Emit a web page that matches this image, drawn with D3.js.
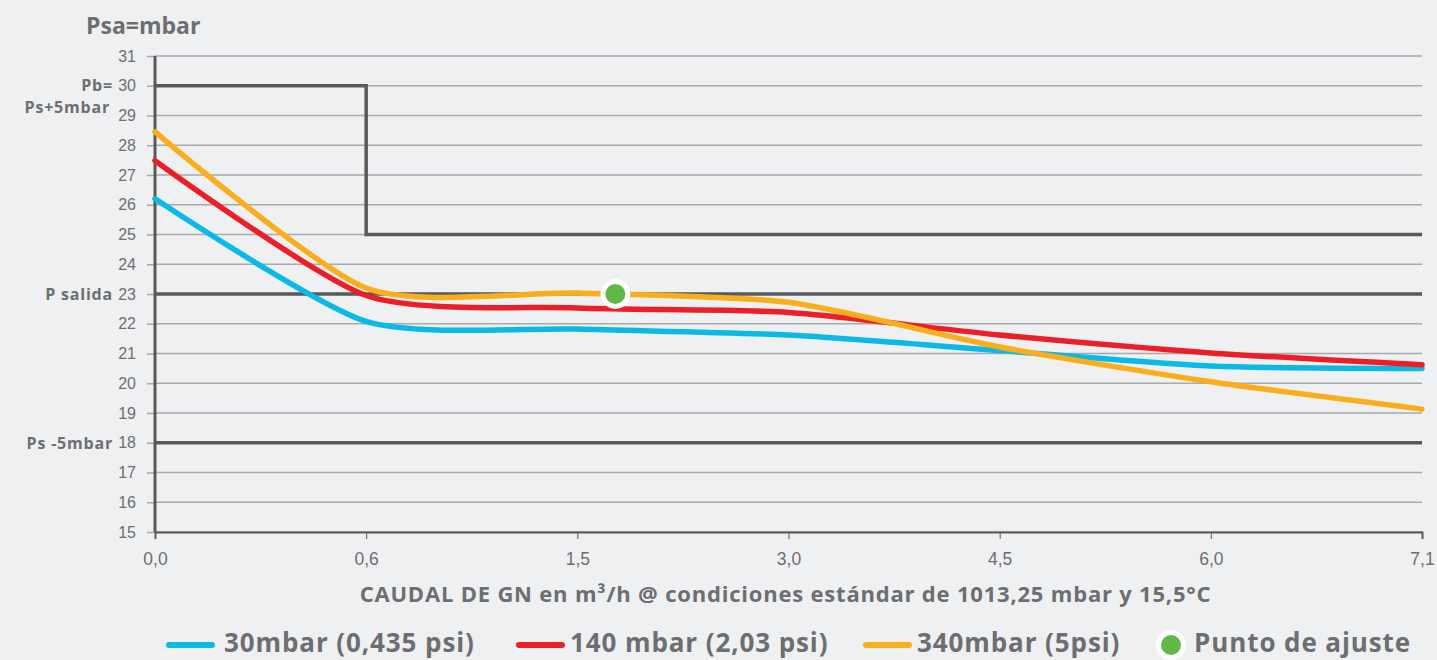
<!DOCTYPE html>
<html>
<head>
<meta charset="utf-8">
<script src="https://cdn.jsdelivr.net/npm/d3@7"></script>
<style>
  html, body { margin: 0; padding: 0; background: #eff0f2; }
  svg { display: block; font-family: Lato, "Noto Sans", sans-serif; }
  .bold { font-family: "Open Sans", Lato, sans-serif; font-weight: 700; }
</style>
</head>
<body>
<div id="graph"></div>
<script>
// flow categories on the x axis (equally spaced in the original)
const flowTicks = [0, 0.6, 1.5, 3.0, 4.5, 6.0, 7.1];
const flowLabels = ["0,0", "0,6", "1,5", "3,0", "4,5", "6,0", "7,1"];
const pressureTicks = [15, 16, 17, 18, 19, 20, 21, 22, 23, 24, 25, 26, 27, 28, 29, 30, 31];

// outlet pressure (mbar) for each inlet pressure
const series30 = [26.2, 22.08, 21.82, 21.62, 21.1, 20.58, 20.5];
const series140 = [27.48, 22.95, 22.53, 22.38, 21.62, 21.02, 20.62];
const series340 = [28.45, 23.2, 23.03, 22.72, 21.22, 20.05, 19.13];

const seriesNames = ["30mbar (0,435 psi)", "140 mbar (2,03 psi)", "340mbar (5psi)"];
const seriesColors = ["#0bb9e7", "#ec1f28", "#fbae1b"];

// limit lines
const pbStep = [[0, 30], [0.6, 25], [7.1, 25]];
const refLines = [23, 18];
const sideLabels = [
  {value: 30, text: "Pb=", dy: 5, right: -42},
  {value: 30, text: "Ps+5mbar", dy: 27, right: -45},
  {value: 23, text: "P salida", dy: 6, right: -42},
  {value: 18, text: "Ps -5mbar", dy: 6, right: -42}
];
const setPoint = {flow: 1.77, pressure: 23.0, name: "Punto de ajuste"};

const width = 1437;
const height = 660;
const margin = {top: 56, right: 15, bottom: 128, left: 155};
const w = width - margin.left - margin.right;
const h = height - margin.top - margin.bottom;

const textColor = "#6d6e71";
const darkLine = "#58595b";
const gridColor = "#a7a9ac";

const root = d3.select("#graph")
  .append("svg")
  .attr("width", width)
  .attr("height", height);

const svg = root.append("g")
  .attr("transform", `translate(${margin.left},${margin.top})`);

// piecewise scale: equal spacing between the labelled flows
const x = d3.scaleLinear()
  .domain(flowTicks)
  .range(flowTicks.map((d, i) => i * w / (flowTicks.length - 1)));

const y = d3.scaleLinear()
  .domain([15, 31])
  .range([h, 0]);

// grid
svg.append("g")
  .selectAll("line")
  .data(pressureTicks)
  .join("line")
  .attr("x1", 0)
  .attr("x2", w)
  .attr("y1", d => y(d))
  .attr("y2", d => y(d))
  .attr("stroke", gridColor)
  .attr("stroke-width", 1.5);

// y axis
const yAxis = svg.append("g")
  .call(d3.axisLeft(y).tickValues(pressureTicks).tickSize(8).tickPadding(11));
yAxis.select(".domain").remove();
yAxis.selectAll(".tick line").attr("stroke", gridColor).attr("stroke-width", 1.5);
yAxis.selectAll(".tick text")
  .attr("fill", textColor)
  .style("font-size", "16px")
  .style("font-weight", 300);

// x axis
const xAxis = svg.append("g")
  .attr("transform", `translate(0,${h})`)
  .call(d3.axisBottom(x).tickValues(flowTicks).tickFormat((d, i) => flowLabels[i]).tickSize(7).tickPadding(14));
xAxis.select(".domain").attr("stroke", darkLine).attr("stroke-width", 2);
xAxis.selectAll(".tick line").attr("stroke", darkLine).attr("stroke-width", 1);
xAxis.selectAll(".tick text")
  .attr("fill", textColor)
  .style("font-size", "17.5px")
  .style("font-weight", 300);

// left axis line
svg.append("line")
  .attr("x1", 0).attr("x2", 0)
  .attr("y1", y(31)).attr("y2", h)
  .attr("stroke", darkLine)
  .attr("stroke-width", 3);

// reference lines
svg.append("g")
  .selectAll("line")
  .data(refLines)
  .join("line")
  .attr("x1", 0)
  .attr("x2", w)
  .attr("y1", d => y(d))
  .attr("y2", d => y(d))
  .attr("stroke", darkLine)
  .attr("stroke-width", 3.5);

svg.append("path")
  .datum(pbStep)
  .attr("fill", "none")
  .attr("stroke", darkLine)
  .attr("stroke-width", 3.5)
  .attr("d", d3.line().x(d => x(d[0])).y(d => y(d[1])).curve(d3.curveStepAfter));

// side labels
svg.append("g")
  .selectAll("text")
  .data(sideLabels)
  .join("text")
  .attr("class", "bold")
  .attr("x", d => d.right)
  .attr("y", d => y(d.value) + d.dy)
  .attr("text-anchor", "end")
  .attr("fill", textColor)
  .style("font-size", "16px")
  .style("letter-spacing", "0.8px")
  .text(d => d.text);

// curves
const line = d3.line()
  .x((d, i) => x(flowTicks[i]))
  .y(d => y(d))
  .curve(d3.curveCardinal.tension(0.3));

[series30, series140, series340].forEach((s, i) => {
  svg.append("path")
    .datum(s)
    .attr("fill", "none")
    .attr("stroke", seriesColors[i])
    .attr("stroke-width", 5.5)
    .attr("stroke-linecap", "round")
    .attr("d", line);
});

// set point
svg.append("circle")
  .attr("cx", x(setPoint.flow))
  .attr("cy", y(setPoint.pressure))
  .attr("r", 12.5)
  .attr("fill", "#62b847")
  .attr("stroke", "#ffffff")
  .attr("stroke-width", 5);

// titles
root.append("text")
  .attr("class", "bold")
  .attr("x", 86)
  .attr("y", 34)
  .attr("fill", textColor)
  .style("font-size", "23px")
  .text("Psa=mbar");

root.append("text")
  .attr("class", "bold")
  .attr("x", margin.left + w / 2 - 3)
  .attr("y", 602)
  .attr("text-anchor", "middle")
  .attr("fill", textColor)
  .style("font-size", "22px")
  .style("letter-spacing", "0.8px")
  .text("CAUDAL DE GN en m³/h @ condiciones estándar de 1013,25 mbar y 15,5°C");

// legend
const legendX = [166, 516, 863, 1155];
const legendY = 645;
const legend = root.append("g");

seriesNames.forEach((name, i) => {
  legend.append("line")
    .attr("x1", legendX[i] + 3).attr("x2", legendX[i] + 46)
    .attr("y1", legendY).attr("y2", legendY)
    .attr("stroke", seriesColors[i])
    .attr("stroke-width", 6)
    .attr("stroke-linecap", "round");
  legend.append("text")
    .attr("class", "bold")
    .attr("x", legendX[i] + (i === 0 ? 58 : 54))
    .attr("y", 652)
    .attr("fill", textColor)
    .style("font-size", "26px")
    .style("letter-spacing", "0.9px")
    .text(name);
});

legend.append("circle")
  .attr("cx", legendX[3] + 16)
  .attr("cy", legendY)
  .attr("r", 12.5)
  .attr("fill", "#62b847")
  .attr("stroke", "#ffffff")
  .attr("stroke-width", 5);
legend.append("text")
  .attr("class", "bold")
  .attr("x", legendX[3] + 39)
  .attr("y", 652)
  .attr("fill", textColor)
  .style("font-size", "26px")
  .style("letter-spacing", "0.9px")
  .text(setPoint.name);
</script>
</body>
</html>
